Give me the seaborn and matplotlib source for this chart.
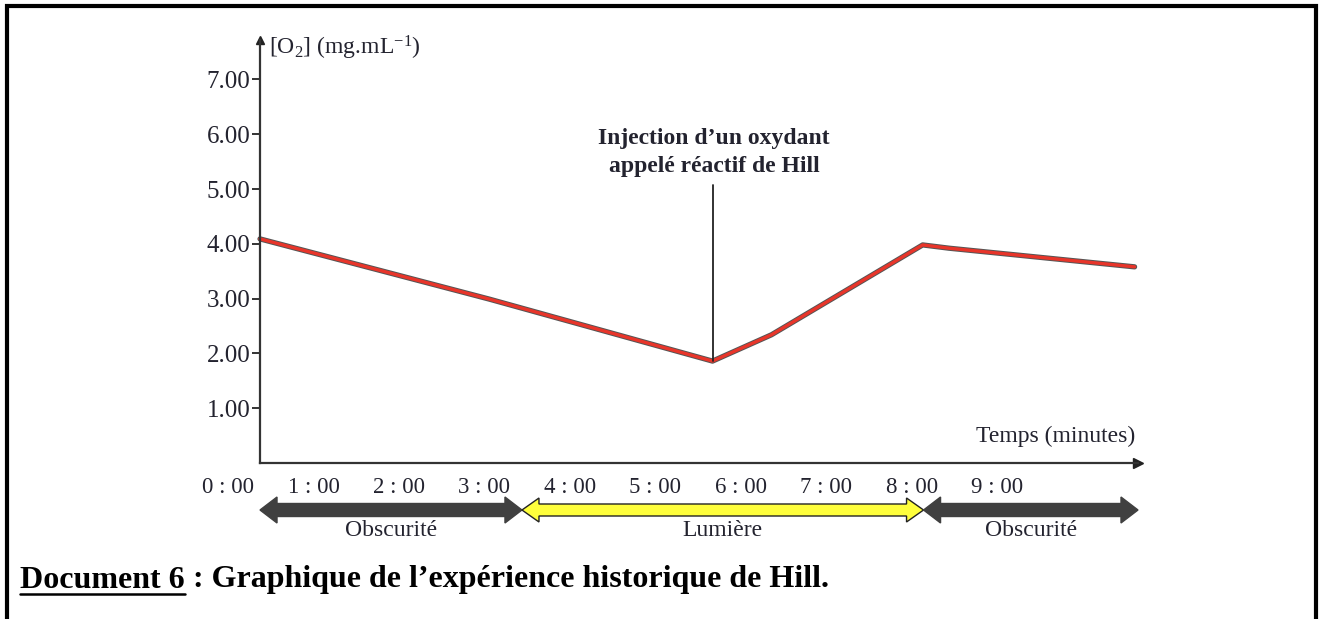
import matplotlib
matplotlib.use("Agg")
import matplotlib.pyplot as plt
import matplotlib.patheffects as pe
from matplotlib.patches import Polygon, Rectangle
from matplotlib.lines import Line2D
import matplotlib.transforms as mtransforms
import seaborn as sns
import pandas as pd

# ---------------- data ----------------
time_min = [0.374, 3.06, 5.67, 6.36, 8.13, 8.44, 10.61]
o2_conc = [4.09, 2.99, 1.86, 2.34, 3.98, 3.92, 3.58]

x_tick_pos = [0, 1, 2, 3, 4, 5, 6, 7, 8, 9]
x_tick_labels = ["0 : 00", "1 : 00", "2 : 00", "3 : 00", "4 : 00",
                 "5 : 00", "6 : 00", "7 : 00", "8 : 00", "9 : 00"]
y_ticks = [1, 2, 3, 4, 5, 6, 7]

phase_bounds = [0.374, 3.44, 8.14, 10.65]
phase_labels = ["Obscurité", "Lumière", "Obscurité"]
phase_colors = ["#404040", "#FFFF3C", "#404040"]
phase_edges = ["#404040", "#222222", "#404040"]

injection_time = 5.67
injection_top = 5.07

# ---------------- style ----------------
sns.set_theme(style="white")
plt.rcParams["font.family"] = ["Liberation Serif", "DejaVu Serif"]
plt.rcParams["mathtext.fontset"] = "custom"
plt.rcParams["mathtext.rm"] = "Liberation Serif"
plt.rcParams["mathtext.it"] = "Liberation Serif:italic"
TXT = "#23232f"

fig = plt.figure(figsize=(13.19, 6.19), dpi=100)
fig.patch.set_facecolor("white")
W, H = 1319, 619
x_left = -0.3
x0_axis = phase_bounds[0]
x_right = phase_bounds[-1]
px_per_min = 85.43
ax_left_px = 260 - (x0_axis - x_left) * px_per_min
ax = fig.add_axes([ax_left_px / W, 1 - 463 / H, (1138 - ax_left_px) / W, 423 / H])
ax.set_facecolor("white")

df = pd.DataFrame({"t": time_min, "o2": o2_conc})
sns.lineplot(data=df, x="t", y="o2", ax=ax, color="#E8352A", linewidth=2.4,
             solid_joinstyle="round", solid_capstyle="round",
             path_effects=[pe.Stroke(linewidth=3.8, foreground="#555555"), pe.Normal()])

ax.set_xlim(x_left, x_right)
ax.set_ylim(0, 7.72)

for s in ["top", "right"]:
    ax.spines[s].set_visible(False)
for s in ["left", "bottom"]:
    ax.spines[s].set_color("#333333")
    ax.spines[s].set_linewidth(1.6)
ax.spines["left"].set_position(("data", x0_axis))
ax.spines["bottom"].set_bounds(x0_axis, x_right)

# axis arrow heads
ax.plot(x_right, 0, ">", color="#222222", markersize=7, clip_on=False)
ax.plot(x0_axis, 1, "^", color="#222222", markersize=6, clip_on=False,
        transform=mtransforms.blended_transform_factory(ax.transData, ax.transAxes))

ax.set_yticks(y_ticks)
ax.set_yticklabels([f"{v:.2f}" for v in y_ticks])
ax.tick_params(axis="y", direction="out", length=6, width=1.4, color="#333333",
               labelsize=18, labelcolor=TXT, pad=1, left=True)
ax.set_xticks(x_tick_pos)
ax.set_xticklabels(x_tick_labels)
ax.tick_params(axis="x", length=0, labelsize=16.5, labelcolor=TXT, pad=10)
ax.set_xlabel("")
ax.set_ylabel("")
ax.set_xlim(x_left, x_right)

trans = mtransforms.blended_transform_factory(ax.transData, ax.transAxes)

# axis titles
ax.text(x0_axis + 0.11, 1 - 8 / 423, r"[O$_2$] (mg.mL$^{\mathregular{-1}}$)", transform=trans,
        ha="left", va="center", fontsize=17, color=TXT)
ax.text(x_right - 0.03, 0.062, "Temps (minutes)", transform=trans,
        ha="right", va="center", fontsize=17, color=TXT)

# injection annotation
ax.plot([injection_time, injection_time], [injection_top, o2_conc[2]],
        color="#222222", linewidth=1.3)
ax.text(injection_time + 0.02, 5.22, "Injection d\u2019un oxydant\nappelé réactif de Hill",
        ha="center", va="bottom", fontsize=17, fontweight="bold", color=TXT,
        linespacing=1.45)

# phase arrows (x in data, y in axes fraction)
yc = -47 / 423
hl = 17 / px_per_min
for i, lab in enumerate(phase_labels):
    x0, x1 = phase_bounds[i], phase_bounds[i + 1]
    if phase_colors[i] == "#404040":
        sh, hh = 6.5 / 423, 13 / 423
    else:
        sh, hh = 6 / 423, 12 / 423
    pts = [(x0, yc), (x0 + hl, yc + hh), (x0 + hl, yc + sh), (x1 - hl, yc + sh),
           (x1 - hl, yc + hh), (x1, yc), (x1 - hl, yc - hh), (x1 - hl, yc - sh),
           (x0 + hl, yc - sh), (x0 + hl, yc - hh)]
    poly = Polygon(pts, closed=True, transform=trans, facecolor=phase_colors[i],
                   edgecolor=phase_edges[i], linewidth=1.0, clip_on=False, zorder=5)
    ax.add_patch(poly)
    ax.text((x0 + x1) / 2, -68 / 423, lab, transform=trans, ha="center", va="center",
            fontsize=17, color=TXT, clip_on=False)

# outer frame
fig.patches.append(Rectangle((6.5 / W, -0.1), (1315.5 - 6.5) / W, 1.1 - 6.5 / H,
                             transform=fig.transFigure, fill=False,
                             edgecolor="black", linewidth=3, zorder=10))

# caption with underlined part
t1 = fig.text(20 / W, 1 - 580 / H, "Document 6", ha="left", va="center",
              fontsize=23, fontweight="bold", color="black")
fig.canvas.draw()
bb = t1.get_window_extent()
t2 = fig.text(bb.x1 / W, 1 - 580 / H, " : Graphique de l\u2019expérience historique de Hill.",
              ha="left", va="center", fontsize=23, fontweight="bold", color="black")
fig.lines.append(Line2D([bb.x0 / W, bb.x1 / W], [(bb.y0 + 1) / H, (bb.y0 + 1) / H],
                        transform=fig.transFigure, color="black", linewidth=1.8))

fig.savefig("out.png", dpi=100)
